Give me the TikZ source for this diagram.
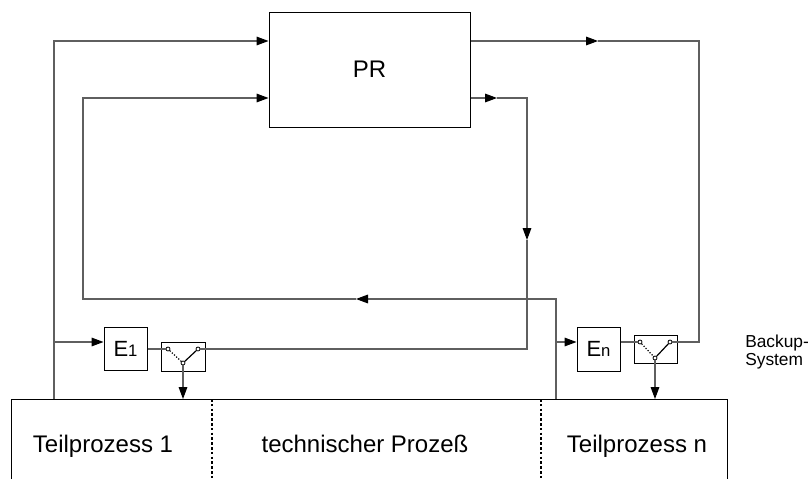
\documentclass[tikz,border=0pt]{standalone}
\usepackage{fontspec}
\setmainfont{Liberation Sans}
\usetikzlibrary{arrows.meta}
\definecolor{wirecol}{RGB}{95,95,95}
\newcommand{\bigfont}{\fontsize{18}{21.6}\selectfont}
\newcommand{\efont}{\fontsize{16.5}{19}\selectfont}
\newcommand{\esub}{\fontsize{12.5}{14}\selectfont}
\tikzset{
  wire/.style={draw=wirecol, line width=0.8pt},
  flow/.style={wire, -{Triangle[length=9pt,width=6.5pt,color=black]}},
  unit/.style={draw=black, line width=0.75pt, inner sep=0pt, minimum width=32.25pt},
  contact/.style={circle, draw=black, fill=white, line width=0.6pt, inner sep=0pt, minimum size=3pt},
  blade/.style={draw=black, line width=0.9pt},
  openblade/.style={draw=black, line width=0.9pt, dash pattern=on 0.9pt off 1.3pt},
  border/.style={draw=black, line width=0.75pt},
  divider/.style={draw=black, line width=1pt, dash pattern=on 2pt off 1.6pt},
  lbl/.style={font=\bigfont, inner sep=0pt}
}
\begin{document}
\begin{tikzpicture}[x=0.75pt,y=-0.75pt]
\useasboundingbox (0,0) rectangle (811,479);

% process computer
\node[unit, minimum width=150.75pt, minimum height=86.25pt, font=\bigfont] (PR) at (369.5,69.5) {PR};

% input units
\node[unit, minimum height=32.25pt, font=\efont] (E1) at (125.5,348.5) {E{\esub 1}};
\node[unit, minimum height=33pt, font=\efont] (En) at (598.5,349) {E{\esub n}};

% switch housings
\node[unit, minimum width=33pt, minimum height=21.75pt] (S1) at (183,356.5) {};
\node[unit, minimum width=32.25pt, minimum height=21pt] (Sn) at (655.5,349) {};

% technical process (open at the bottom)
\coordinate (P0) at (11,479);
\coordinate (P1) at (11,399);
\coordinate (P2) at (727,399);
\coordinate (P3) at (727,479);
\draw[border] (P0) -- (P1) -- (P2) -- (P3);
\coordinate (Q1) at (212,399);
\coordinate (Q2) at (212,479);
\coordinate (R1) at (541,399);
\coordinate (R2) at (541,479);
\draw[divider] (Q1) -- (Q2);
\draw[divider] (R1) -- (R2);

\node[lbl, anchor=base] (T1) at (103,452) {Teilprozess 1};
\node[lbl, anchor=base] (T0) at (365,452) {technischer Prozeß};
\node[lbl, anchor=base] (Tn) at (637,452) {Teilprozess n};
\node[font=\fontsize{13}{13.5}\selectfont, align=left, anchor=west, inner sep=0pt] (BK) at (745,352.5) {Backup-\\System};

% contacts of the switches
\node[contact] (S1a) at (168,349) {};
\node[contact] (S1b) at (198,349) {};
\node[contact] (S1c) at (183,363) {};
\node[contact] (Sna) at (640,342) {};
\node[contact] (Snb) at (670,342) {};
\node[contact] (Snc) at (655,358) {};
\draw[openblade] (S1a) -- (S1c);
\draw[blade] (S1c) -- (S1b);
\draw[openblade] (Sna) -- (Snc);
\draw[blade] (Snc) -- (Snb);

% measured values from the process
\coordinate (A0) at (54,399);
\coordinate (A1) at (54,41);
\coordinate (A2) at (54,342);
\draw[flow] (A0) -- (A1) -- (A1 -| PR.west);
\draw[flow] (A2) -- (A2 -| E1.west);

\coordinate (B0) at (556,399);
\coordinate (B1) at (556,299);
\coordinate (Bm) at (356,299);
\coordinate (B2) at (83,299);
\coordinate (B3) at (83,98);
\coordinate (B4) at (556,342);
\draw[flow] (B0) -- (B1) -- (Bm);
\draw[flow] (Bm) -- (B2) -- (B3) -- (B3 -| PR.west);
\draw[flow] (B4) -- (B4 -| En.west);

% outputs of the process computer
\coordinate (C0) at (497,98);
\coordinate (C1) at (527,98);
\coordinate (Cm) at (527,240);
\coordinate (C2) at (527,349);
\draw[flow] (C0 -| PR.east) -- (C0);
\draw[flow] (C0) -- (C1) -- (Cm);
\draw[wire] (Cm) -- (C2) -- (S1b);

\coordinate (D0) at (598,41);
\coordinate (D1) at (699,41);
\coordinate (D2) at (699,342);
\draw[flow] (D0 -| PR.east) -- (D0);
\draw[wire] (D0) -- (D1) -- (D2) -- (Snb);

% input units to switches
\draw[wire] (E1.east |- S1a) -- (S1a);
\draw[wire] (En.east |- Sna) -- (Sna);

% switches to the process
\draw[flow] (S1c) -- (S1c |- P1);
\draw[flow] (Snc) -- (Snc |- P1);
\end{tikzpicture}
\end{document}
